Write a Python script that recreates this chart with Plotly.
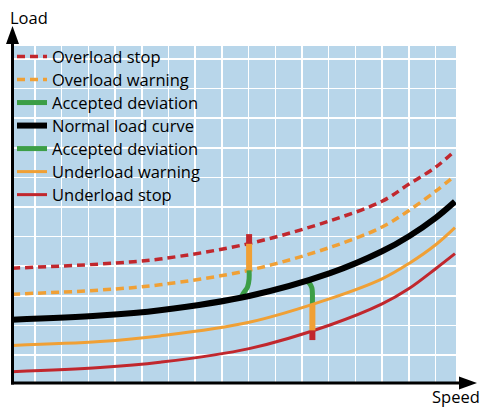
import plotly.graph_objects as go

# ---- data (arbitrary units) ----
speed = [0, 3.30, 5.54, 8.88, 11.91, 13.86, 14.87, 15.88, 16.59]
overload_stop = [3.88, 4.02, 4.19, 4.71, 5.48, 6.14, 6.72, 7.30, 7.85]
overload_warning = [3.00, 3.14, 3.32, 3.81, 4.58, 5.27, 5.83, 6.49, 7.00]
normal_load = [2.14, 2.28, 2.46, 2.94, 3.71, 4.45, 4.96, 5.59, 6.13]
underload_warning = [1.27, 1.40, 1.59, 2.05, 2.85, 3.52, 4.04, 4.68, 5.25]
underload_stop = [0.38, 0.52, 0.70, 1.16, 1.96, 2.67, 3.19, 3.87, 4.37]

# deviation marker 1 (upwards deviation)
dev1_green_x = [8.60, 8.69, 8.82, 8.88, 8.88]
dev1_green_y = [2.92, 3.06, 3.24, 3.51, 3.81]
dev1_orange_x = [8.88, 8.88]
dev1_orange_y = [3.81, 4.71]
dev1_red_x = [8.88, 8.88]
dev1_red_y = [4.71, 5.03]

# deviation marker 2 (downwards deviation)
dev2_green_x = [11.02, 11.15, 11.23, 11.25, 11.25]
dev2_green_y = [3.45, 3.36, 3.22, 3.05, 2.66]
dev2_orange_x = [11.25, 11.25]
dev2_orange_y = [2.66, 1.77]
dev2_red_x = [11.25, 11.25]
dev2_red_y = [1.77, 1.45]

RED = "#C1272D"
ORANGE = "#F0A035"
GREEN = "#3C9E46"
BLACK = "#000000"
BG = "#B8D6EA"
FONT = "Open Sans"
TXT = 16.5

fig = go.Figure()

def curve(x, y, name, color, width, dash=None, rank=1, show=True, shape="spline"):
    label = f'<span style="font-size:{TXT}px">{name}</span>' if show else name
    fig.add_trace(go.Scatter(
        x=x, y=y, mode="lines", name=label, showlegend=show, legendrank=rank,
        line=dict(color=color, width=width, dash=dash, shape=shape, smoothing=1.0),
        hoverinfo="skip"))

curve(speed, overload_stop, "Overload stop", RED, 3.5, "8px,5px", 1)
curve(speed, overload_warning, "Overload warning", ORANGE, 3.5, "8px,5px", 2)
curve(dev1_green_x, dev1_green_y, "Accepted deviation", GREEN, 5, None, 3)
curve(dev2_green_x, dev2_green_y, "Accepted deviation", GREEN, 5, None, 5)
curve(speed, normal_load, "Normal load curve", BLACK, 6, None, 4)
curve(speed, underload_warning, "Underload warning", ORANGE, 3, None, 6)
curve(speed, underload_stop, "Underload stop", RED, 3, None, 7)
curve(dev1_orange_x, dev1_orange_y, "dev1o", ORANGE, 6, None, 10, False, "linear")
curve(dev1_red_x, dev1_red_y, "dev1r", RED, 6, None, 10, False, "linear")
curve(dev2_orange_x, dev2_orange_y, "dev2o", ORANGE, 6, None, 10, False, "linear")
curve(dev2_red_x, dev2_red_y, "dev2r", RED, 6, None, 10, False, "linear")

# pixel helpers for decorations (plot area: left 12, top 46, 444 x 337)
L, T, W, H = 12, 46, 444, 337
def px(x):
    return (x - L) / W
def py(y):
    return (T + H - y) / H

shapes = [
    # legend background box covering the grid
    dict(type="rect", xref="paper", yref="paper", x0=px(12), x1=px(242), y0=py(233), y1=py(46),
         fillcolor=BG, line=dict(width=0), layer="between"),
    # y axis
    dict(type="line", xref="paper", yref="paper", x0=px(12.5), x1=px(12.5), y0=py(384.5), y1=py(40),
         line=dict(color=BLACK, width=3), layer="above"),
    dict(type="path", xref="paper", yref="paper",
         path=f"M{px(12.5)},{py(26)} L{px(6)},{py(44)} L{px(19)},{py(44)} Z",
         fillcolor=BLACK, line=dict(width=0), layer="above"),
    # x axis
    dict(type="line", xref="paper", yref="paper", x0=px(11), x1=px(462), y0=py(383), y1=py(383),
         line=dict(color=BLACK, width=3), layer="above"),
    dict(type="path", xref="paper", yref="paper",
         path=f"M{px(477)},{py(383)} L{px(459)},{py(376.5)} L{px(459)},{py(389.5)} Z",
         fillcolor=BLACK, line=dict(width=0), layer="above"),
]

annotations = [
    dict(text="Load", xref="paper", yref="paper", x=px(8), y=py(17.5), xanchor="left", yanchor="middle",
         showarrow=False, font=dict(family=FONT, size=TXT, color=BLACK)),
    dict(text="Speed", xref="paper", yref="paper", x=px(482), y=py(396), xanchor="right", yanchor="middle",
         showarrow=False, font=dict(family=FONT, size=TXT, color=BLACK)),
]

fig.update_layout(
    width=483, height=407,
    margin=dict(l=L, r=483 - L - W, t=T, b=407 - T - H),
    paper_bgcolor="white", plot_bgcolor=BG,
    shapes=shapes, annotations=annotations,
    showlegend=True,
    legend=dict(x=0.0, y=1.0 + 6 / H, xanchor="left", yanchor="top", bgcolor="rgba(0,0,0,0)",
                font=dict(family=FONT, size=15.4, color=BLACK), itemwidth=30,
                traceorder="normal", tracegroupgap=0),
    xaxis=dict(range=[0, W / 26.7], tick0=23 / 26.7, dtick=1, showgrid=True, gridcolor="white",
               gridwidth=1.5, zeroline=False, showticklabels=False, ticks="", showline=False, fixedrange=True),
    yaxis=dict(range=[0, H / 29.6], tick0=28 / 29.6, dtick=1, showgrid=True, gridcolor="white",
               gridwidth=1.5, zeroline=False, showticklabels=False, ticks="", showline=False, fixedrange=True),
)

fig.write_html("out.html", config={"displayModeBar": False, "staticPlot": True},
               post_script="document.body.style.margin='0px';document.body.style.overflow='hidden';")
